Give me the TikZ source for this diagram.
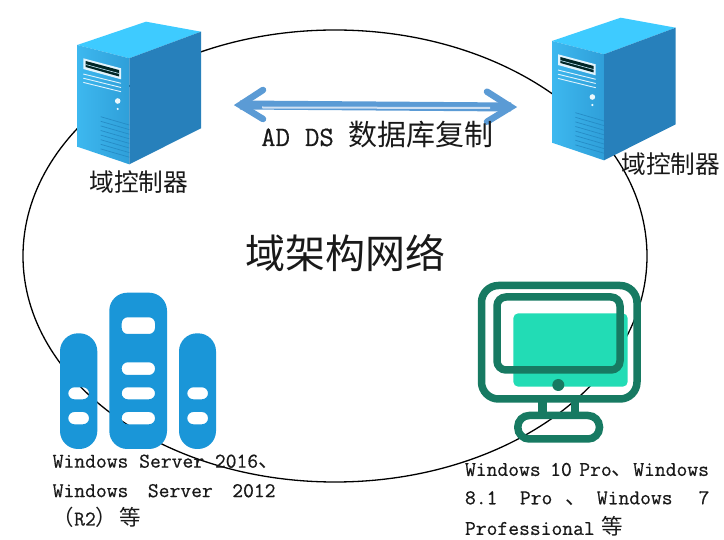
\documentclass[tikz,border=0pt]{standalone}
\usepackage{fontspec}
\setmainfont{Latin Modern Mono}[FakeBold=0.5]
\newfontfamily\cjk{Noto Sans CJK SC}
\newcommand{\latinsz}{\fontsize{21}{22}\selectfont}
\newcommand{\cjksz}{\cjk\fontsize{21.5}{22}\selectfont}
\definecolor{topface}{HTML}{3ECBFF}
\definecolor{frontL}{HTML}{3DB8EF}
\definecolor{frontR}{HTML}{2F9FD9}
\definecolor{sideface}{HTML}{2780BB}
\definecolor{ventline}{HTML}{258CC6}
\definecolor{barblue}{HTML}{1A96D8}
\definecolor{darkteal}{HTML}{177A62}
\definecolor{brightteal}{HTML}{22DCB5}
\definecolor{arrowblue}{HTML}{5B9BD5}
\definecolor{arrowlight}{HTML}{CFE0F2}
\tikzset{
  towerpic/.pic={
    \fill[topface] (77.3,45) -- (146,21.7) -- (201,31.7) -- (129.3,58.3) -- cycle;
    \shade[left color=frontL,right color=frontR] (77.3,45) -- (129.3,58.3) -- (129.3,164.3) -- (77.3,146.7) -- cycle;
    \fill[sideface] (129.3,58.3) -- (201,31.7) -- (201,128.3) -- (129.3,164.3) -- cycle;
    \fill[white!85!frontL] (83.3,58.3) -- (121,68.3) -- (121,79.3) -- (83.3,69) -- cycle;
    \fill[black!70!teal] (85.7,61) -- (119,70) -- (119,76.5) -- (85.7,67) -- cycle;
    \draw[white!70!frontL,line width=.6pt] (85.7,64.5) -- (119,73.5);
    \foreach \ya/\yb in {74/83.3,78.2/87.5,82.4/91.7}
      \draw[white!85!frontL,line width=.9pt] (83.3,\ya) -- (121,\yb);
    \fill[white!90!frontL] (117.7,101) circle (2.8);
    \fill[white!90!frontL] (117.7,109) circle (1.2);
    \foreach \k in {0,...,7}
      \draw[ventline,line width=.7pt] (100.7,116.7+4.6*\k) -- (129.3,125+4.6*\k);
  },
  barfill/.style={fill=barblue,even odd rule},
  frameline/.style={draw=darkteal,line width=7.5pt,fill=none},
  lbl/.style={inner sep=0pt,outer sep=0pt,anchor=west,text=black!90},
  capmid/.style={inner sep=0pt,outer sep=0pt,anchor=center,text=black!90},
  shaft/.style={arrowblue,line width=9pt},
  shaftlight/.style={arrowlight,line width=2pt},
  barb/.style={arrowblue,line width=6.5pt,line cap=round,line join=miter,miter limit=10}
}
\begin{document}
\begin{tikzpicture}[x=1pt,y=-1pt]
\useasboundingbox (0,0) rectangle (724,540);
\fill[white] (0,0) rectangle (724,540);

% ring
\draw[black,line width=1.3pt] (335,256) ellipse [x radius=312,y radius=226];

% towers
\pic at (0,0) {towerpic};
\pic at (474.7,-4) {towerpic};

% arrow
\coordinate (arrL) at (240,105);
\coordinate (arrR) at (511,107);
\coordinate (lightL) at (262,107.5);
\coordinate (lightR) at (490,108);
\coordinate (barbLa) at (263,90);
\coordinate (barbLb) at (263,119);
\coordinate (barbRa) at (487,91.7);
\coordinate (barbRb) at (487,121.7);
\draw[shaft] (arrL) -- (arrR);
\draw[barb] (barbLa) -- (arrL) -- (barbLb);
\draw[barb] (barbRa) -- (arrR) -- (barbRb);
\draw[shaftlight] (lightL) -- (lightR);

% server bars
\path[barfill,rounded corners=18pt]
  (60,333.3) rectangle (97.3,449)
  (109.3,292.7) rectangle (167,449)
  (179,333.3) rectangle (216,449)
  [rounded corners=6pt]
  (68.3,387.3) rectangle (89,399.3)
  (68.3,412) rectangle (89,424.3)
  (121.7,317.3) rectangle (155,334)
  (121.7,362.3) rectangle (155,375)
  (121.7,387.3) rectangle (155,399.3)
  (121.7,412) rectangle (155,424.3)
  (187.3,387.3) rectangle (208,399.3)
  (187.3,412) rectangle (208,424.3);

% monitor
\fill[brightteal,rounded corners=5pt] (513.3,313.3) rectangle (627.7,386.7);
\draw[frameline,rounded corners=17pt] (481.5,285.5) rectangle (637,399);
\draw[frameline,rounded corners=9pt] (497,297) rectangle (620,370);
\fill[darkteal] (558.3,385) circle (6);
\fill[darkteal] (538,402) rectangle (546.7,412);
\fill[darkteal] (570.7,402) rectangle (579.3,412);
\draw[frameline,rounded corners=11.5pt] (517.8,415.5) rectangle (599.5,439);

% labels
\node[capmid] (titleA) at (377.5,135) {\fontsize{28}{30}\selectfont AD\hspace{15pt}DS\hspace{15pt}{\cjk\fontsize{29}{30}\selectfont 数据库复制}};
\node[capmid] (titleB) at (345,253) {\cjk\fontsize{40}{42}\selectfont 域架构网络};
\node[capmid] (dcL) at (138.8,181.7) {\cjk\fontsize{24.7}{26}\selectfont 域控制器};
\node[capmid] (dcR) at (670.8,164) {\cjk\fontsize{24.7}{26}\selectfont 域控制器};

\node[lbl] (winA) at (52.7,461.7) {\latinsz Windows Server 2016{\cjksz 、}};
\node[lbl] (winB) at (52.7,490.7) {\latinsz Windows\hspace{19.5pt}Server\hspace{19.5pt}2012};
\node[lbl] (winC) at (52.7,517.3) {{\cjksz （}\latinsz R2{\cjksz ）\hspace{2pt}等}};

\node[lbl] (cliA) at (465,470) {\latinsz Windows\hspace{9.5pt}10\hspace{7.5pt}Pro{\cjksz 、}Windows};
\node[lbl] (cliB) at (465,498.3) {\latinsz 8.1\hspace{22.5pt}Pro\hspace{13pt}{\cjksz 、}\hspace{10pt}Windows\hspace{26pt}7};
\node[lbl] (cliC) at (465,526.7) {\latinsz Professional\hspace{7pt}{\cjksz 等}};
\end{tikzpicture}
\end{document}
